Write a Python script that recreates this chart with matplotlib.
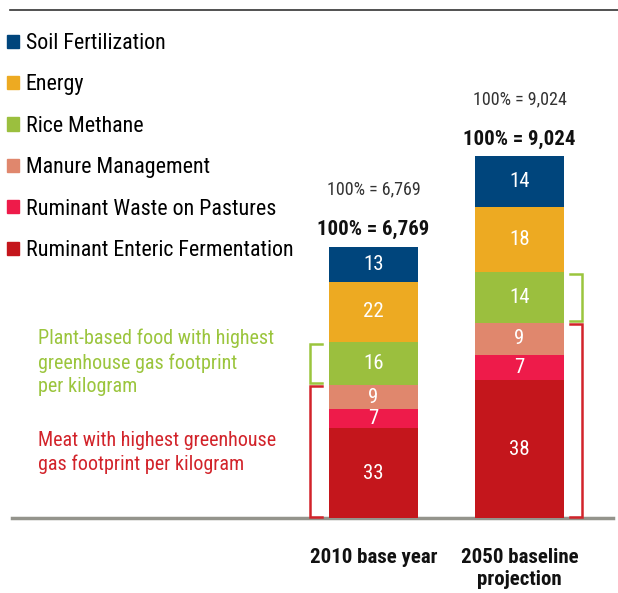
import numpy as np
import matplotlib.pyplot as plt
from matplotlib.lines import Line2D
from matplotlib.patches import Patch

# Data
categories = ['2010 base year', '2050 baseline\nprojection']
totals = [6769, 9024]
sources = ['Ruminant Enteric Fermentation', 'Ruminant Waste on Pastures', 'Manure Management',
           'Rice Methane', 'Energy', 'Soil Fertilization']
shares_2010 = [33, 7, 9, 16, 22, 13]
shares_2050 = [38, 7, 9, 14, 18, 14]
total_labels = ['100% = 6,769', '100% = 9,024']
plant_note = 'Plant-based food with highest\ngreenhouse gas footprint\nper kilogram'
meat_note = 'Meat with highest greenhouse\ngas footprint per kilogram'

colors = ['#C4161C', '#EE1B4A', '#E0876D', '#9BBF3E', '#EDAA22', '#00457C']
GREEN = '#9BC53D'
RED = '#D2232A'

# condensed look if one is installed, else Roboto
FONT = ['Roboto Condensed', 'DejaVu Sans Condensed', 'Liberation Sans Narrow', 'Roboto', 'DejaVu Sans']
plt.rcParams['font.family'] = FONT

W, H = 618, 593


def fx(px):
    return px / W


def fy(py):
    return 1 - py / H


fig = plt.figure(figsize=(W / 100, H / 100), dpi=100)
# axes: baseline at pixel y=518, top at pixel y=10
ax = fig.add_axes([0, fy(518), 1, fy(10) - fy(518)])
px_per_val = 0.0401
ax.set_ylim(0, (518 - 10) / px_per_val)
ax.set_xlim(-373.5 / 146, (W - 373.5) / 146)
ax.axis('off')

x = np.arange(len(categories))
width = 89 / 146
shares = [shares_2010, shares_2050]

bottoms = np.zeros(len(categories))
for i, src in enumerate(sources):
    vals = np.array([shares[j][i] * totals[j] / 100 for j in range(len(categories))])
    ax.bar(x, vals, width, bottom=bottoms, color=colors[i], label=src, linewidth=0)
    for j in range(len(categories)):
        ax.text(x[j], bottoms[j] + vals[j] / 2, str(shares[j][i]), color='white',
                ha='center', va='center', fontsize=15)
    bottoms = bottoms + vals

# total labels above bars (light and bold)
for j in range(len(categories)):
    ax.text(x[j], totals[j] + 17 / px_per_val, total_labels[j], ha='center', va='center',
            fontsize=15, fontweight='bold', color='#111111')
    ax.text(x[j], totals[j] + 57 / px_per_val, total_labels[j], ha='center', va='center',
            fontsize=13, color='#333333')

# category labels under bars
for j in range(len(categories)):
    ax.text(x[j], -30 / px_per_val, categories[j], ha='center', va='top',
            fontsize=15, fontweight='bold', color='#111111', linespacing=1.22)

# baseline
ax.axhline(0, xmin=fx(12), xmax=fx(613), color='#94948C', linewidth=2.5, zorder=0, clip_on=False)


# brackets for plant-based and meat groups
def bracket(ax, xv, xt, y0, y1, color):
    ax.plot([xt, xv, xv, xt], [y0, y0, y1, y1], color=color, linewidth=1.8,
            solid_joinstyle='miter', clip_on=False)


gap = 1.5 / px_per_val
for j, (xv, xt) in enumerate([((310 - 373.5) / 146, (322 - 373.5) / 146),
                              ((582 - 373.5) / 146, (570 - 373.5) / 146)]):
    meat_top = sum(shares[j][:3]) * totals[j] / 100
    rice_top = sum(shares[j][:4]) * totals[j] / 100
    bracket(ax, xv, xt, 1 / px_per_val, meat_top - gap, RED)
    bracket(ax, xv, xt, meat_top + gap, rice_top - 2 / px_per_val, GREEN)

# notes
fig.text(fx(38), fy(329), plant_note, color=GREEN, fontsize=14.5, va='top', linespacing=1.3)
fig.text(fx(38), fy(431), meat_note, color=RED, fontsize=14.5, va='top', linespacing=1.3)

# top rule
fig.add_artist(Line2D([fx(10), 1], [fy(10), fy(10)], color='#333333', linewidth=1.2))

# legend (top entry first)
handles = [Patch(color=colors[i]) for i in range(len(sources))][::-1]
leg = fig.legend(handles, sources[::-1], loc='upper left', bbox_to_anchor=(fx(7), fy(33)),
                 frameon=False, fontsize=15.8, handlelength=0.55, handleheight=0.55,
                 handletextpad=0.3, labelspacing=0.93, borderpad=0, borderaxespad=0)

fig.savefig('out.png', dpi=100)
